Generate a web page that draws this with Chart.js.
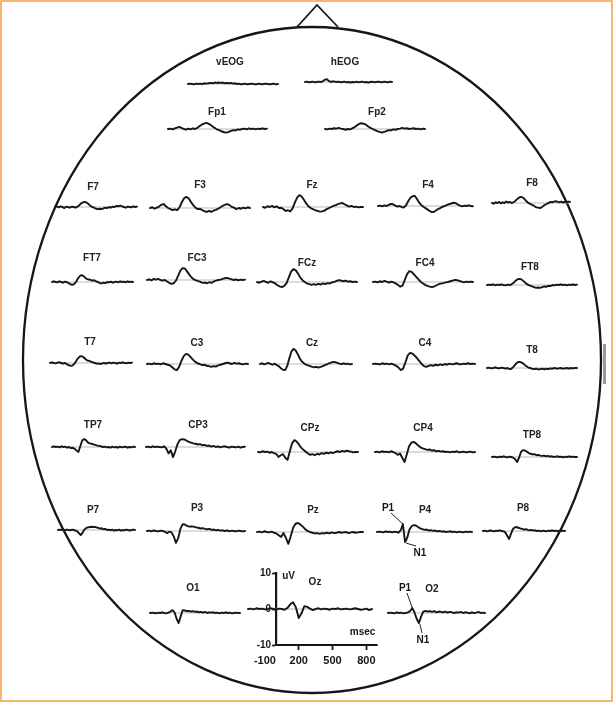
<!DOCTYPE html>
<html>
<head>
<meta charset="utf-8">
<style>
  html, body { margin: 0; padding: 0; background: #fff; }
  canvas { display: block; }
</style>
<script src="https://cdn.jsdelivr.net/npm/chart.js@4/dist/chart.umd.min.js"></script>
</head>
<body>
<canvas id="erp" width="613" height="702"></canvas>
<script>
// Sample times (ms) shared by every channel
const TIMES = [-250,-225,-200,-175,-150,-125,-100,-75,-50,-25,0,25,50,75,100,125,150,175,200,225,250,275,300,325,350,375,400,425,450,475,500,525,550,575,600,625,650,675,700,725,750,775,800,825,850];

// Grand-average amplitudes (uV) per channel, one value per sample time
const vEOG = [0,0.1,0,-0.1,0.1,0,0.1,0,0.2,0.1, 0.2,0.3,0.2,0.4,0.3,0.4,0.3,0.4,0.2,0.3, 0.2,0.3,0.1,0.2,0,0.1,-0.1,0,0.1,-0.1, 0,0.1,0,-0.1,0,0.1,-0.1,0,0.1,0, -0.1,0,0.1,-0.1,0];
const hEOG = [0,0.1,-0.1,0,0.1,-0.1,0,0.1,0,0.2, 0.6,0.8,0.3,0,0.2,0.1,0,0.1,-0.1,0, 0.1,-0.1,0,-0.2,0,-0.1,0.1,-0.1,0,0.1, -0.1,0,-0.2,0,0.1,-0.1,0,0.1,0,-0.1, 0.1,0,-0.1,0.1,0];
const Fp1 = [0,0.1,-0.1,0.2,0.4,0.6,0.3,0,-0.2,0.1, -0.1,0.2,0,0.3,0.8,1.2,1.5,1.7,1.5,1.1, 0.6,0.2,-0.2,-0.4,-0.7,-0.9,-1.0,-0.8,-0.5,-0.3, -0.4,-0.1,-0.2,0,0.1,-0.1,0.2,0,0.1,-0.1, 0.1,0,0.2,0,0.1];
const Fp2 = [0,-0.1,0.1,0,0.2,0.1,0.3,0.1,0,-0.2, 0,-0.1,0.2,0.5,1.0,1.4,1.6,1.5,1.2,0.7, 0.3,0,-0.3,-0.6,-0.8,-1.0,-0.8,-0.6,-0.3,-0.4, -0.1,-0.2,0,0.1,0.3,0.1,0.2,0,0.1,0.2, 0,0.1,-0.1,0.1,0];
const F7 = [0,0.2,-0.1,0.2,0,-0.3,0.1,0,-0.2,0.1, 0,-0.2,0.1,0.5,1.0,1.3,1.4,1.2,0.8,0.3, 0,-0.2,-0.5,-0.6,-0.5,-0.6,-0.4,-0.2,-0.3,0, -0.2,0.1,0,0.3,0.2,0.4,0.2,0,-0.2,0.1, 0,-0.1,0.2,0,0.1];
const F3 = [0,0.2,-0.2,0.1,0.4,0.9,1.1,0.5,0,-0.3, -0.6,-0.4,-0.6,0.2,1.6,2.7,3.1,2.7,1.7,0.8, 0.1,-0.3,-0.2,-0.6,-0.9,-1.1,-0.8,-1.1,-0.7,-0.5, -0.2,0.2,0.6,0.9,1.1,0.8,0.3,0.1,-0.3,0, -0.2,0.1,-0.1,0.2,0];
const Fz = [0,-0.2,0.2,0,0.3,-0.1,0.2,-0.3,-0.2,-0.6, -1.1,-0.9,-1.2,-0.4,1.2,2.6,3.3,2.9,2.0,1.0, 0.2,-0.3,-0.6,-0.9,-1.1,-1.3,-1.2,-1.0,-0.6,-0.3, 0,0.3,0.5,0.8,1.0,1.1,0.7,0.4,0.1,0.3, 0,0.1,-0.1,0,0];
const F4 = [0,0.1,-0.1,0.2,0,0.3,0.6,0.5,0.1,-0.2, 0,-0.3,-0.4,0.2,1.3,2.3,2.7,2.8,2.0,1.0, 0.3,-0.2,-0.6,-1.0,-1.4,-1.7,-1.6,-1.2,-0.8,-0.5, -0.2,0,0.3,0.5,0.7,0.9,0.8,0.4,0.1,-0.1, 0.1,0,0.2,0,-0.1];
const F8 = [0,-0.2,0.2,0,0.3,-0.1,0.2,0,0.4,0.1, 0.3,0,0.2,0.5,1.0,1.4,1.7,1.6,1.3,0.7, 0.2,-0.1,-0.4,-0.6,-0.9,-1.2,-1.3,-1.4,-1.2,-0.8, -0.5,-0.2,0,0.3,0.2,0.4,0.5,0.3,0.2,0.4, 0.1,0.3,0.2,0.4,0.3];
const FT7 = [0,0.2,0,-0.1,0.2,0,-0.2,0.1,0,-0.3, -0.6,-0.8,-0.6,0,0.9,1.6,1.9,1.7,1.2,0.8, 0.7,0.6,0.4,0.5,0.2,0,-0.3,-0.4,-0.2,-0.3, 0,-0.1,0.1,-0.2,0,0.1,-0.1,0.2,0,0.1, -0.1,0.2,0,0.1,0];
const FC3 = [0,0.2,-0.1,0.3,0.1,0.3,0,-0.2,0,-0.4, -0.8,-1.1,-0.9,-0.2,1.2,2.6,3.3,3.2,2.4,1.5, 0.7,0.2,-0.1,-0.3,-0.5,-0.8,-0.7,-0.9,-0.6,-0.8, -0.4,-0.2,0,0.1,0.3,0.5,0.6,0.4,0.2,0, 0.2,-0.1,0.1,0,0.1];
const FCz = [0,-0.2,0.1,0.3,0,-0.2,0.2,-0.1,-0.4,-0.9, -1.2,-1.4,-1.1,-0.3,1.3,2.9,3.6,3.3,2.4,1.3, 0.5,0,-0.4,-0.6,-0.8,-0.6,-0.8,-0.5,-0.7,-0.4, -0.6,-0.3,-0.4,-0.1,0,0.3,0.5,0.4,0.2,0.4, 0.1,0.2,0,0.1,0];
const FC4 = [0,0.1,-0.1,0.2,0,0.3,0.1,-0.2,0.1,-0.1, -0.4,-0.8,-1.3,-1.0,0.6,2.2,3.0,2.8,2.1,1.4, 0.7,0.1,-0.4,-0.8,-1.1,-1.3,-1.4,-1.2,-0.9,-0.6, -0.4,-0.3,-0.1,0,0.2,0.4,0.6,0.5,0.3,0.1, -0.1,0.1,0,0.1,0];
const FT8 = [0,0.1,0,0.2,-0.1,0.1,0,0.2,0,-0.1, 0.1,0,0.2,0.6,1.2,1.6,1.7,1.5,1.0,0.5, 0.1,-0.2,-0.4,-0.6,-0.8,-0.7,-0.8,-0.6,-0.4,-0.5, -0.2,-0.3,0,-0.1,0.1,0,0.2,0,0.1,-0.1, 0.1,0,0.2,0,0.1];
const T7 = [0,0.2,0,-0.1,0.1,0.2,0,-0.2,0,-0.3, -0.6,-0.8,-0.7,-0.3,0.5,1.3,1.8,1.9,1.6,1.1, 0.7,0.6,0.4,0.2,0,-0.2,-0.1,-0.3,-0.1,0, -0.2,0,0.1,-0.1,0.1,0,-0.2,0.1,0,0.2, 0,-0.1,0.1,0,0.1];
const C3 = [0,0.1,-0.1,0.2,0,0.1,-0.1,0.2,0,-0.2, -0.4,-0.9,-1.5,-1.7,-0.8,0.9,2.2,2.8,2.6,1.9, 1.2,0.6,0.2,0,-0.3,-0.2,-0.5,-0.6,-0.8,-0.6, -0.7,-0.4,-0.2,0,0.2,0.4,0.2,0,0.3,0.1, 0.2,0,-0.1,0.1,0];
const Cz = [0,0.2,-0.1,0.1,0.3,0,-0.2,0.1,-0.3,-0.6, -1.2,-1.6,-1.7,-0.6,1.5,3.4,4.2,3.8,2.8,1.6, 0.7,0.2,-0.2,-0.4,-0.6,-0.8,-0.9,-0.8,-1.0,-0.8, -0.6,-0.3,-0.1,0.2,0.4,0.6,0.5,0.3,0.1,0, 0.2,0,0.1,-0.1,0];
const C4 = [0,0.1,0,-0.1,0.2,0,0.1,-0.1,0.1,-0.2, -0.5,-1.0,-1.7,-1.3,0.5,2.4,3.1,2.9,2.3,1.6, 0.8,0,-0.6,-0.8,-0.5,-0.3,-0.5,-0.2,-0.4,-0.1, -0.3,0,-0.2,0.1,-0.1,0,0.2,0,-0.1,0.1, 0,0.2,0,0.1,0];
const T8 = [0,0.1,-0.1,0,0.2,0,-0.1,0.1,0,-0.2, 0,-0.3,-0.2,0.4,1.1,1.6,1.7,1.5,1.1,0.6, 0.2,0,-0.2,-0.3,-0.2,-0.4,-0.3,-0.2,-0.4,-0.2, -0.3,-0.1,-0.2,0,-0.2,-0.1,0,-0.2,-0.1,0, -0.2,0,-0.1,0,0];
const TP7 = [0,0.2,0,0.1,-0.1,0.2,0,0.1,-0.2,0, -0.3,-0.2,-0.5,-1.0,-1.4,0.2,1.8,2.2,1.9,1.3, 1.0,0.9,0.7,0.6,0.4,0.3,0.2,0,0.1,-0.1, 0,-0.2,0.1,-0.1,0,-0.2,0.1,-0.1,0,0.1, -0.2,0,-0.1,0.1,0];
const CP3 = [0,0.1,-0.1,0.2,0,0.1,0,-0.1,0.2,-0.4, -1.8,-0.9,-2.8,-1.2,0.8,1.9,2.2,2.1,1.8,1.4, 1.2,1.0,0.9,0.7,0.8,0.5,0.6,0.3,0.4,0.1, 0.3,0,0.2,-0.1,0.1,0.2,0,-0.2,0.1,0, -0.1,0.1,-0.2,0,0.1];
const CPz = [0,-0.1,0.2,0,0.1,-0.2,0,-0.3,-0.5,-1.4, -0.9,-0.6,-1.6,-2.2,0.2,2.4,3.3,2.9,2.1,1.2, 0.6,0.1,-0.4,-0.8,-0.6,-0.9,-0.5,-0.7,-0.3,-0.5, -0.2,-0.4,-0.1,-0.3,0,0.2,0,0.3,0.1,0.4, 0.2,0.1,-0.1,0,0];
const CP4 = [0,0.1,-0.1,0.2,0,0.1,-0.1,0.2,0,-0.3, -0.8,-0.4,-1.6,-2.8,-0.6,1.6,2.6,2.8,2.4,1.8, 1.3,1.0,0.8,0.6,0.7,0.4,0.5,0.2,0.3,0.1, 0.2,0,0.1,-0.1,0.1,0,0.2,-0.1,0,0.1, -0.1,0,0.1,-0.1,0];
const TP8 = [0,0.1,0,-0.1,0.1,0,0.2,0,-0.1,0.1, 0,-0.2,-0.6,-1.4,-0.2,1.4,1.9,1.8,1.5,1.1, 0.9,0.7,0.8,0.5,0.6,0.4,0.3,0.4,0.2,0.3, 0.1,0.2,0,0.1,0.2,0,0.1,-0.1,0.1,0, 0.2,0,0.1,0,0];
const P7 = [0,0.1,0,0.2,-0.1,0.1,0,-0.1,0.1,0, -0.2,-0.4,-0.9,-1.4,-0.8,0.1,0.5,0.7,0.8,0.9, 0.8,0.9,0.7,0.6,0.4,0.5,0.2,0.3,0,0.1, -0.1,0.1,-0.2,0,-0.1,0.1,-0.2,0,-0.1,0.1, 0,-0.2,0,0.1,0];
const P3 = [0,0.1,-0.1,0.2,0,-0.1,0.1,0,-0.2,-0.6, -0.2,-0.4,-1.5,-3.3,-2.0,0.6,1.9,1.8,1.4,1.2, 1.3,1.2,1.0,0.9,0.7,0.8,0.6,0.5,0.6,0.3, 0.4,0.2,0.3,0.1,0.2,0,0.2,-0.1,0.1,0, -0.1,0.1,0,-0.1,0];
const Pz = [0,0.1,-0.1,0.2,0,-0.1,0.1,-0.2,-0.4,-0.9, -1.4,-0.3,-1.6,-3.3,-1.2,1.2,2.3,2.5,2.1,1.5, 0.8,0.3,0,-0.2,-0.4,-0.3,-0.5,-0.3,-0.4,-0.2, -0.4,-0.1,-0.3,-0.2,0,-0.2,-0.1,0,-0.3,-0.1, 0,-0.2,-0.1,0,0];
const P4 = [0,0.1,0,-0.1,0.2,0,0.1,-0.1,0.1,0, -0.2,0.5,2.2,-2.8,-1.6,0.6,1.6,1.9,1.8,1.4, 1.0,0.8,0.6,0.7,0.4,0.5,0.3,0.4,0.2,0.3, 0.1,0.2,0,0.1,0.2,0,0.1,-0.1,0.1,0, -0.1,0.1,0,0.1,0];
const P8 = [0,0.1,-0.1,0,0.2,0,-0.1,0.1,0,0.2, 0,-0.1,-0.4,-1.3,-2.2,-0.8,0.5,1.0,1.1,0.9, 0.7,0.6,0.4,0.5,0.3,0.2,0.3,0.1,0.2,0, 0.1,-0.1,0.1,0,-0.1,0.1,0,0.2,0,0.1, -0.1,0.1,0,0.1,0];
const O1 = [0,0.1,0,-0.1,0.1,0,0.2,0,-0.1,0.1, 0.4,0.8,0.2,-1.6,-2.8,-0.9,0.8,0.7,0.5,0.6, 0.4,0.5,0.3,0.4,0.2,0.3,0.1,0.3,0,0.2, 0.1,0.2,0,0.1,-0.1,0.1,0,0.2,0,0.1, -0.1,0,0.1,0,0];
const Oz = [0,0.1,-0.1,0.2,0,0.1,-0.1,0,0.2,0, -0.1,0.1,0,-0.2,0.3,1.3,1.9,0.4,-2.5,-1.2, 0.8,0.6,0.1,-0.3,0,0.2,-0.1,0.1,0,-0.2, 0.1,0,0.2,-0.1,0,0.1,-0.1,0,0.2,0, -0.2,-0.1,0.1,-0.3,0];
const O2 = [0,0.1,0,-0.1,0.2,0,0.1,-0.1,0,0.2, 0.5,1.4,0.2,-1.6,-2.8,-1.0,0.4,0.6,0.4,0.5, 0.3,0.5,0.2,0.4,0.3,0.2,0.4,0.1,0.3,0.2, 0,0.2,0.1,0.3,0,0.2,0.1,-0.1,0.2,0, 0.1,0.3,0,0.1,0];

// Calibration axes of the Oz panel
const OZ_Y_TICKS = [10, 0, -10];
const OZ_X_TICKS = [-100, 200, 500, 800];

// Latencies (ms) of the marked P1 / N1 components
const P4_COMPONENTS = { P1: 50, N1: 75 };
const O2_COMPONENTS = { P1: 25, N1: 100 };

const SERIES = { vEOG, hEOG, Fp1, Fp2, F7, F3, Fz, F4, F8, FT7, FC3, FCz, FC4, FT8,
  T7, C3, Cz, C4, T8, TP7, CP3, CPz, CP4, TP8, P7, P3, Pz, P4, P8, O1, Oz, O2 };
const CHANNELS = Object.keys(SERIES);

// Scalp layout: plot box (x0..x1, zero-line y) and label centre per channel
const PX_PER_UV = 3.6;
const LAYOUT = {
  vEOG: { x0: 188, x1: 278, base: 84,  lx: 230, ly: 62 },
  hEOG: { x0: 305, x1: 392, base: 82,  lx: 345, ly: 62 },
  Fp1:  { x0: 168, x1: 267, base: 129, lx: 217, ly: 112 },
  Fp2:  { x0: 325, x1: 425, base: 129, lx: 377, ly: 112 },
  F7:   { x0: 55,  x1: 137, base: 207, lx: 93,  ly: 187 },
  F3:   { x0: 150, x1: 250, base: 208, lx: 200, ly: 185 },
  Fz:   { x0: 263, x1: 363, base: 207, lx: 312, ly: 185 },
  F4:   { x0: 378, x1: 473, base: 206, lx: 428, ly: 185 },
  F8:   { x0: 492, x1: 570, base: 203, lx: 532, ly: 183 },
  FT7:  { x0: 52,  x1: 133, base: 282, lx: 92,  ly: 258 },
  FC3:  { x0: 147, x1: 245, base: 280, lx: 197, ly: 258 },
  FCz:  { x0: 257, x1: 357, base: 282, lx: 307, ly: 263 },
  FC4:  { x0: 373, x1: 473, base: 282, lx: 425, ly: 263 },
  FT8:  { x0: 487, x1: 577, base: 285, lx: 530, ly: 267 },
  T7:   { x0: 50,  x1: 132, base: 363, lx: 90,  ly: 342 },
  C3:   { x0: 147, x1: 248, base: 364, lx: 197, ly: 343 },
  Cz:   { x0: 260, x1: 352, base: 364, lx: 312, ly: 343 },
  C4:   { x0: 373, x1: 475, base: 364, lx: 425, ly: 343 },
  T8:   { x0: 487, x1: 577, base: 368, lx: 532, ly: 350 },
  TP7:  { x0: 52,  x1: 135, base: 447, lx: 93,  ly: 425 },
  CP3:  { x0: 146, x1: 245, base: 447, lx: 198, ly: 425 },
  CPz:  { x0: 258, x1: 358, base: 452, lx: 310, ly: 428 },
  CP4:  { x0: 375, x1: 475, base: 452, lx: 423, ly: 428 },
  TP8:  { x0: 492, x1: 577, base: 457, lx: 532, ly: 435 },
  P7:   { x0: 58,  x1: 135, base: 530, lx: 93,  ly: 510 },
  P3:   { x0: 147, x1: 245, base: 531, lx: 197, ly: 508 },
  Pz:   { x0: 257, x1: 363, base: 532, lx: 313, ly: 510 },
  P4:   { x0: 377, x1: 472, base: 532, lx: 425, ly: 510 },
  P8:   { x0: 483, x1: 565, base: 531, lx: 523, ly: 508 },
  O1:   { x0: 150, x1: 240, base: 613, lx: 193, ly: 588 },
  Oz:   { x0: 248, x1: 372, base: 609, lx: 315, ly: 582 },
  O2:   { x0: 388, x1: 485, base: 613, lx: 432, ly: 589 }
};

const HEAD = { cx: 312, cy: 360, rx: 289, ry: 333 };
const INK = '#161616';
const LABEL_FONT = 'bold 10px "Liberation Sans", Arial, sans-serif';
const AXIS_FONT = '"Liberation Sans", Arial, sans-serif';

// ---- datasets: a grey zero line under each black waveform ----
const datasets = [];
CHANNELS.forEach(name => {
  const xAxisID = 'x_' + name, yAxisID = 'y_' + name;
  datasets.push({
    label: name + ' zero',
    data: [{ x: TIMES[0], y: 0 }, { x: TIMES[TIMES.length - 1], y: 0 }],
    xAxisID, yAxisID,
    borderColor: '#b9b9b9', borderWidth: 1.2,
    pointRadius: 0, clip: false, order: 2
  });
  datasets.push({
    label: name,
    data: TIMES.map((t, i) => ({ x: t, y: SERIES[name][i] })),
    xAxisID, yAxisID,
    borderColor: INK, borderWidth: 1.9,
    borderJoinStyle: 'round', borderCapStyle: 'round',
    pointRadius: 0, tension: 0, clip: false, order: 1
  });
});

// ---- one small pair of scales per channel ----
const scales = {};
CHANNELS.forEach(name => {
  scales['x_' + name] = { type: 'linear', axis: 'x', min: TIMES[0], max: TIMES[TIMES.length - 1], display: false };
  scales['y_' + name] = { type: 'linear', axis: 'y', min: -5, max: 5, display: false };
});

// The Oz panel carries the calibration axes
scales.x_Oz = {
  type: 'linear', axis: 'x', position: 'bottom',
  min: TIMES[0], max: TIMES[TIMES.length - 1], display: true,
  afterBuildTicks: s => { s.ticks = OZ_X_TICKS.map(v => ({ value: v })); },
  grid: {
    display: true, drawOnChartArea: false, drawTicks: true, tickLength: 4, tickWidth: 1.8,
    tickColor: c => (c.tick && c.tick.value < 0) ? 'rgba(0,0,0,0)' : INK
  },
  border: { display: false },
  ticks: {
    color: INK, padding: 4, autoSkip: false, maxRotation: 0, minRotation: 0,
    font: { family: AXIS_FONT, size: 11, weight: 'bold' }
  }
};
scales.y_Oz = {
  type: 'linear', axis: 'y', position: 'left',
  min: -10, max: 10, display: true,
  afterBuildTicks: s => { s.ticks = OZ_Y_TICKS.map(v => ({ value: v })); },
  grid: { display: true, drawOnChartArea: false, drawTicks: true, tickLength: 4, tickWidth: 1.8, tickColor: INK },
  border: { display: true, color: INK, width: 2.2 },
  ticks: {
    color: INK, padding: 1,
    font: { family: AXIS_FONT, size: 10, weight: 'bold' }
  }
};

// Put every channel's scales over its spot on the scalp map
const scalpLayout = {
  id: 'scalpLayout',
  afterLayout(chart) {
    CHANNELS.forEach(name => {
      const L = LAYOUT[name];
      const xs = chart.scales['x_' + name];
      const ys = chart.scales['y_' + name];
      const xh = xs.height, yw = ys.width;
      ys.top = L.base - ys.max * PX_PER_UV;
      ys.bottom = L.base - ys.min * PX_PER_UV;
      ys.height = ys.bottom - ys.top;
      xs.left = L.x0; xs.right = L.x1; xs.width = L.x1 - L.x0;
      xs.top = ys.bottom + 1; xs.bottom = xs.top + xh; xs.height = xh;
      xs.configure();
      const zeroX = xs.getPixelForValue(0);
      ys.right = zeroX; ys.left = zeroX - yw; ys.width = yw;
      ys.configure();
    });
  }
};

function valueAt(series, t) {
  return series[TIMES.indexOf(t)];
}

// Head outline, nose, ear marker and frame behind the waveforms
const scalpDrawing = {
  id: 'scalpDrawing',
  beforeDraw(chart) {
    const ctx = chart.ctx;
    ctx.save();
    ctx.fillStyle = '#ffffff';
    ctx.fillRect(0, 0, chart.width, chart.height);
    ctx.strokeStyle = '#f3a03c';
    ctx.lineWidth = 1.5;
    ctx.strokeRect(1, 1, chart.width - 2, chart.height - 2);
    ctx.restore();
  },
  beforeDatasetsDraw(chart) {
    const ctx = chart.ctx;
    ctx.save();
    ctx.strokeStyle = INK;
    ctx.lineWidth = 2.3;
    ctx.beginPath();
    ctx.ellipse(HEAD.cx, HEAD.cy, HEAD.rx, HEAD.ry, 0, 0, Math.PI * 2);
    ctx.stroke();
    // nose
    ctx.lineWidth = 1.8;
    ctx.lineJoin = 'miter';
    ctx.beginPath();
    ctx.moveTo(297, 27);
    ctx.lineTo(317, 5);
    ctx.lineTo(338, 27);
    ctx.stroke();
    // ear marker on the right edge
    ctx.fillStyle = '#9a9a9a';
    ctx.fillRect(603, 344, 3, 40);
    ctx.restore();
  },
  afterDatasetsDraw(chart) {
    const ctx = chart.ctx;
    ctx.save();
    ctx.fillStyle = '#222222';
    ctx.font = LABEL_FONT;
    ctx.textAlign = 'center';
    ctx.textBaseline = 'middle';
    CHANNELS.forEach(name => {
      const L = LAYOUT[name];
      ctx.fillText(name, L.lx, L.ly);
    });

    // Oz calibration: time axis line from 0 to 900 ms at -10 uV
    const xs = chart.scales.x_Oz, ys = chart.scales.y_Oz;
    ctx.strokeStyle = INK;
    ctx.lineWidth = 2.2;
    ctx.beginPath();
    ctx.moveTo(xs.getPixelForValue(0) - 1, ys.getPixelForValue(-10));
    ctx.lineTo(xs.getPixelForValue(900), ys.getPixelForValue(-10));
    ctx.stroke();
    ctx.fillStyle = INK;
    ctx.font = 'bold 10px ' + AXIS_FONT;
    ctx.textAlign = 'left';
    ctx.fillText('uV', xs.getPixelForValue(0) + 6, ys.getPixelForValue(9.2));
    ctx.textAlign = 'right';
    ctx.fillText('msec', xs.getPixelForValue(880), ys.getPixelForValue(-6.4));

    // P1 / N1 markers on P4 and O2
    const mark = (name, comps) => {
      const cx = chart.scales['x_' + name], cy = chart.scales['y_' + name];
      const s = SERIES[name];
      const p1 = { x: cx.getPixelForValue(comps.P1), y: cy.getPixelForValue(valueAt(s, comps.P1)) };
      const n1 = { x: cx.getPixelForValue(comps.N1), y: cy.getPixelForValue(valueAt(s, comps.N1)) };
      return { p1, n1 };
    };
    ctx.strokeStyle = '#222222';
    ctx.lineWidth = 1;
    ctx.font = LABEL_FONT;
    ctx.textAlign = 'center';

    const a = mark('P4', P4_COMPONENTS);
    ctx.beginPath();
    ctx.moveTo(391, 513); ctx.lineTo(a.p1.x, a.p1.y);
    ctx.moveTo(a.n1.x + 1, a.n1.y + 1); ctx.lineTo(416, 546);
    ctx.stroke();
    ctx.fillText('P1', 388, 508);
    ctx.fillText('N1', 420, 553);

    const b = mark('O2', O2_COMPONENTS);
    ctx.beginPath();
    ctx.moveTo(407, 593); ctx.lineTo(b.p1.x, b.p1.y);
    ctx.moveTo(b.n1.x + 1, b.n1.y + 1); ctx.lineTo(422, 633);
    ctx.stroke();
    ctx.fillText('P1', 405, 588);
    ctx.fillText('N1', 423, 640);
    ctx.restore();
  }
};

new Chart(document.getElementById('erp'), {
  type: 'line',
  data: { datasets },
  options: {
    responsive: false,
    animation: false,
    devicePixelRatio: 1,
    parsing: true,
    layout: { padding: 0 },
    plugins: { legend: { display: false }, tooltip: { enabled: false }, title: { display: false } },
    events: [],
    scales
  },
  plugins: [scalpLayout, scalpDrawing]
});
</script>
</body>
</html>
